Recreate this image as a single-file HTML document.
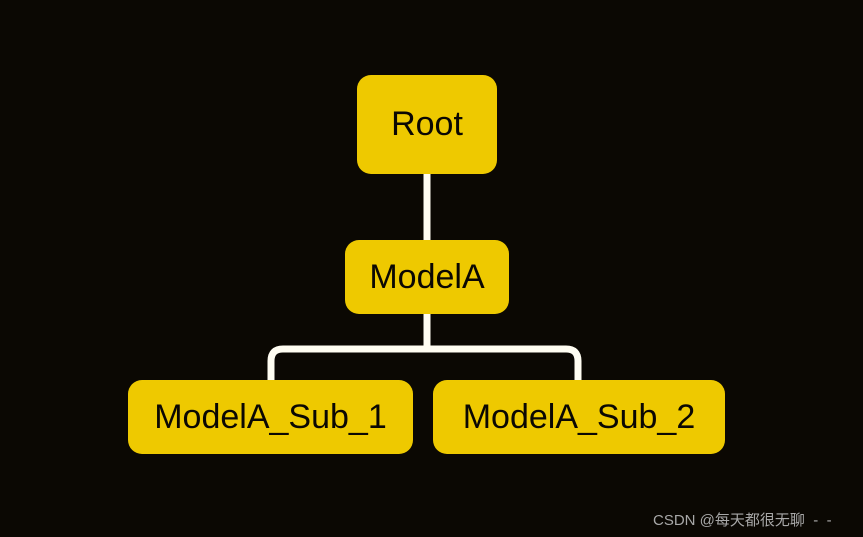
<!DOCTYPE html>
<html><head><meta charset="utf-8"><style>
html,body{margin:0;padding:0;background:#0b0803;width:863px;height:537px;overflow:hidden}
.n{position:absolute;background:#eec900;border-radius:14px;color:#0b0803;font-family:"Liberation Sans",sans-serif;font-size:34px;display:flex;align-items:center;justify-content:center}
.wm{position:absolute;left:653px;top:509px;color:#a8a8a8;font-family:"Liberation Sans","Noto Sans CJK SC",sans-serif;font-size:15px;white-space:pre}
</style></head><body>
<svg width="863" height="537" style="position:absolute;left:0;top:0">
<g stroke="#fffdf2" stroke-width="7" fill="none">
<line x1="427" y1="170" x2="427" y2="244"/>
<line x1="427" y1="310" x2="427" y2="349"/>
<path d="M271 384 V361 Q271 349 283 349 H566 Q578 349 578 361 V384"/>
</g></svg>
<div class="n" style="left:357px;top:75px;width:140px;height:99px">Root</div>
<div class="n" style="left:345px;top:240px;width:164px;height:74px">ModelA</div>
<div class="n" style="left:128px;top:380px;width:285px;height:74px">ModelA_Sub_1</div>
<div class="n" style="left:433px;top:380px;width:292px;height:74px">ModelA_Sub_2</div>
<div class="wm">CSDN @每天都很无聊  -  -</div>
</body></html>
